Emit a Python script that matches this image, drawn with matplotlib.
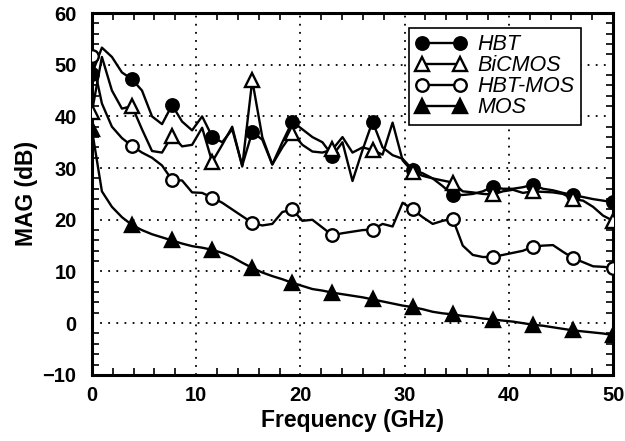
import numpy as np
import matplotlib
matplotlib.use("Agg")
import matplotlib.pyplot as plt
from matplotlib.ticker import MultipleLocator

plt.rcParams['font.family'] = ['Liberation Sans', 'DejaVu Sans']

# frequency grid (GHz), 53 samples from 0 to 50
freq = np.linspace(0, 50, 53)

hbt = [48.2, 53.3, 51.5, 48.5, 47.2, 45.0, 40.0, 38.5, 42.2, 39.0,
       37.3, 40.0, 36.1, 35.0, 37.5, 30.5, 37.0, 35.5, 30.7, 35.0,
       39.0, 37.5, 36.0, 35.0, 32.4, 35.0, 27.5, 33.5, 39.0, 34.0,
       32.5, 31.8, 29.7, 29.0, 28.0, 26.5, 24.8, 24.8, 25.0, 25.5,
       26.4, 26.0, 26.0, 26.3, 26.8, 26.0, 25.7, 25.2, 24.8, 24.4,
       24.0, 23.7, 23.4]

bicmos = [40.8, 51.5, 45.0, 41.5, 42.0, 37.5, 33.3, 33.0, 36.3, 34.2,
          34.5, 37.8, 31.2, 34.5, 38.0, 30.3, 47.0, 36.0, 30.7, 34.0,
          36.8, 34.5, 33.2, 33.0, 33.6, 36.0, 33.0, 34.0, 33.5, 32.6,
          38.8, 31.5, 29.3, 28.5, 28.0, 27.6, 27.2, 25.5, 25.3, 25.0,
          24.9, 25.5, 25.8, 25.2, 25.5, 25.4, 25.3, 25.0, 24.0, 23.7,
          22.5, 20.8, 19.8]

hbt_mos = [51.6, 42.5, 38.0, 35.8, 34.3, 33.0, 32.0, 30.5, 27.7, 27.6,
           25.3, 25.2, 24.3, 23.3, 22.0, 20.7, 19.4, 18.9, 19.2, 21.5,
           22.0, 19.8, 20.0, 18.5, 17.0, 17.4, 17.7, 18.0, 18.1, 19.2,
           18.7, 23.3, 22.0, 20.5, 19.2, 19.8, 20.2, 15.0, 13.2, 12.8,
           12.8, 13.2, 13.6, 14.0, 14.8, 15.0, 15.1, 13.8, 12.6, 11.8,
           11.0, 10.9, 10.7]

mos = [37.5, 25.5, 22.5, 20.5, 19.0, 18.0, 17.2, 16.6, 16.0, 15.4,
       14.9, 14.6, 14.2, 13.6, 12.8, 11.7, 10.7, 9.8, 9.1, 8.5,
       7.8, 7.2, 6.6, 6.3, 5.9, 5.6, 5.3, 5.0, 4.6, 4.2,
       3.8, 3.4, 3.1, 2.7, 2.2, 1.9, 1.7, 1.4, 1.2, 0.9,
       0.7, 0.5, 0.3, 0.0, -0.3, -0.5, -0.8, -1.1, -1.4, -1.6,
       -1.8, -2.0, -2.3]

series = [
    ("HBT", hbt, "o", "black"),
    ("BiCMOS", bicmos, "^", "white"),
    ("HBT-MOS", hbt_mos, "o", "white"),
    ("MOS", mos, "^", "black"),
]

fig = plt.figure(figsize=(6.25, 4.41), dpi=100)
ax = fig.add_axes([0.147, 0.150, 0.834, 0.8205])

for name, vals, mk, face in series:
    ax.plot(freq, vals, color="black", lw=1.7, marker=mk, markevery=4,
            markersize=9 if mk == "o" else 10, markerfacecolor=face,
            markeredgecolor="black", markeredgewidth=1.7, label=name,
            zorder=3)

ax.set_xlim(0, 50)
ax.set_ylim(-10, 60)
ax.xaxis.set_major_locator(MultipleLocator(10))
ax.xaxis.set_minor_locator(MultipleLocator(2))
ax.yaxis.set_major_locator(MultipleLocator(10))
ax.yaxis.set_minor_locator(MultipleLocator(2))
ax.tick_params(which="both", direction="in", top=True, right=True, width=1.2)
ax.tick_params(which="major", length=0, labelsize=14.5)
ax.tick_params(axis="y", which="major", pad=11)
ax.tick_params(axis="x", which="major", pad=8)
ax.tick_params(which="minor", length=5)
for lab in ax.get_xticklabels() + ax.get_yticklabels():
    lab.set_fontweight("bold")

ax.grid(True, which="major", color="black", linestyle=(0, (1, 3.5)), lw=1.3)
for sp in ax.spines.values():
    sp.set_linewidth(2.2)

ax.set_xlabel("Frequency (GHz)", fontsize=16.5, fontweight="bold", labelpad=3)
ax.set_ylabel("MAG (dB)", fontsize=16.5, fontweight="bold", labelpad=3)

leg = ax.legend(loc="upper right", bbox_to_anchor=(0.9386, 0.9586), numpoints=2,
                prop={"style": "italic", "size": 15.5}, frameon=True,
                fancybox=False, edgecolor="black", handlelength=2.4,
                handletextpad=0.5, borderpad=0.3, labelspacing=0.0,
                borderaxespad=0.0)
leg.get_frame().set_linewidth(1.2)
leg.get_frame().set_alpha(1)

fig.savefig("out.png", dpi=100)
